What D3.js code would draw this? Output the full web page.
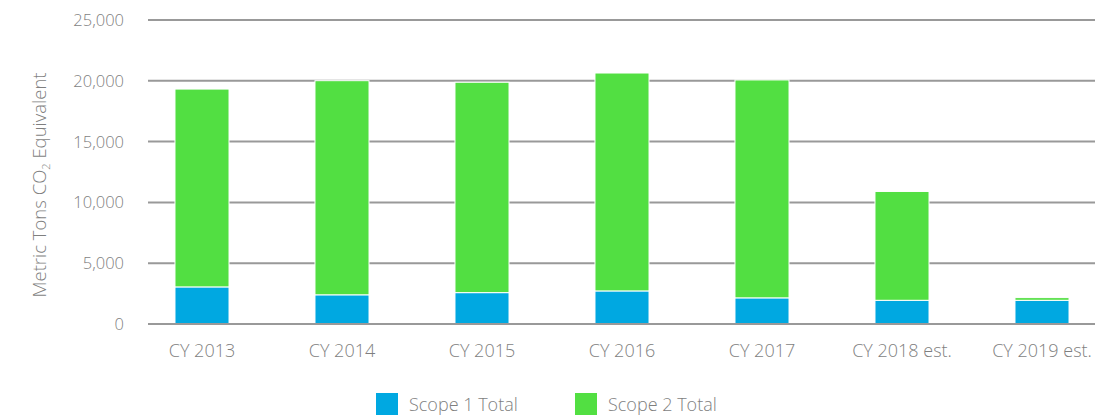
<!DOCTYPE html>
<html>
<head>
<meta charset="utf-8">
<script src="https://cdn.jsdelivr.net/npm/d3@7"></script>
<style>
  body { margin: 0; background: #fff; }
  svg { display: block; font-family: 'Open Sans', sans-serif; }
</style>
</head>
<body>
<svg id="chart" width="1097" height="417"></svg>
<script>
const years = ['CY 2013', 'CY 2014', 'CY 2015', 'CY 2016', 'CY 2017', 'CY 2018 est.', 'CY 2019 est.']
const scope1 = [3050, 2400, 2580, 2720, 2150, 1950, 1950]
const scope2 = [16270, 17610, 17300, 17920, 17920, 8950, 220]
const yTicks = [0, 5000, 10000, 15000, 20000, 25000]
const seriesNames = ['Scope 1 Total', 'Scope 2 Total']
const colors = ['#00a8e1', '#52df42']

const svg = d3.select('#chart')
const textColor = '#7f7f7f'

const x = d3.scaleBand().domain(years).range([132, 1112]).paddingInner(0.614).paddingOuter(0.307)
const y = d3.scaleLinear().domain([0, 25000]).range([324, 20])

// grid lines
svg.append('g')
  .selectAll('line').data(yTicks).enter()
  .append('line')
  .attr('x1', 148).attr('x2', 1095)
  .attr('y1', d => y(d)).attr('y2', d => y(d))
  .attr('stroke', '#999').attr('stroke-width', 2)

// y tick labels
svg.append('g')
  .selectAll('text').data(yTicks).enter()
  .append('text')
  .attr('x', 124).attr('y', d => y(d) + 6)
  .attr('text-anchor', 'end')
  .style('font-size', '16.5px').style('font-weight', 300)
  .attr('fill', textColor)
  .text(d => d3.format(',')(d))

// stacked bars
const rows = years.map((yr, i) => ({ year: yr, s1: scope1[i], s2: scope2[i] }))
const stack = d3.stack().keys(['s1', 's2'])(rows)

svg.append('g')
  .selectAll('g').data(stack).enter()
  .append('g')
  .attr('fill', (d, i) => colors[i])
  .selectAll('rect').data(d => d).enter()
  .append('rect')
  .attr('x', d => x(d.data.year))
  .attr('width', x.bandwidth())
  .attr('y', d => y(d[1]))
  .attr('height', d => y(d[0]) - y(d[1]))
  .attr('stroke', '#fff').attr('stroke-width', 1)

// baseline on top of the bars
svg.append('line')
  .attr('x1', 148).attr('x2', 1095)
  .attr('y1', y(0)).attr('y2', y(0))
  .attr('stroke', '#999').attr('stroke-width', 2)

// x labels
svg.append('g')
  .selectAll('text').data(years).enter()
  .append('text')
  .attr('x', d => x(d) + x.bandwidth() / 2)
  .attr('y', 357)
  .attr('text-anchor', 'middle')
  .style('font-size', '18px').style('font-weight', 300)
  .attr('fill', textColor)
  .text(d => d)

// y axis title
const title = svg.append('text')
  .attr('transform', 'translate(46,185) rotate(-90)')
  .attr('text-anchor', 'middle')
  .style('font-size', '18.5px').style('font-weight', 300)
  .attr('fill', textColor)
title.append('tspan').text('Metric Tons CO')
title.append('tspan').text('2').style('font-size', '11px').attr('dy', 4)
title.append('tspan').text(' Equivalent').attr('dy', -4)

// legend
const legendX = [376, 575]
const legend = svg.append('g')
  .selectAll('g').data(seriesNames).enter()
  .append('g')
  .attr('transform', (d, i) => `translate(${legendX[i]},393)`)
legend.append('rect')
  .attr('width', 22).attr('height', 22)
  .attr('fill', (d, i) => colors[i])
legend.append('text')
  .attr('x', 33).attr('y', 18)
  .style('font-size', '18px').style('font-weight', 300)
  .attr('fill', textColor)
  .text(d => d)
</script>
</body>
</html>
